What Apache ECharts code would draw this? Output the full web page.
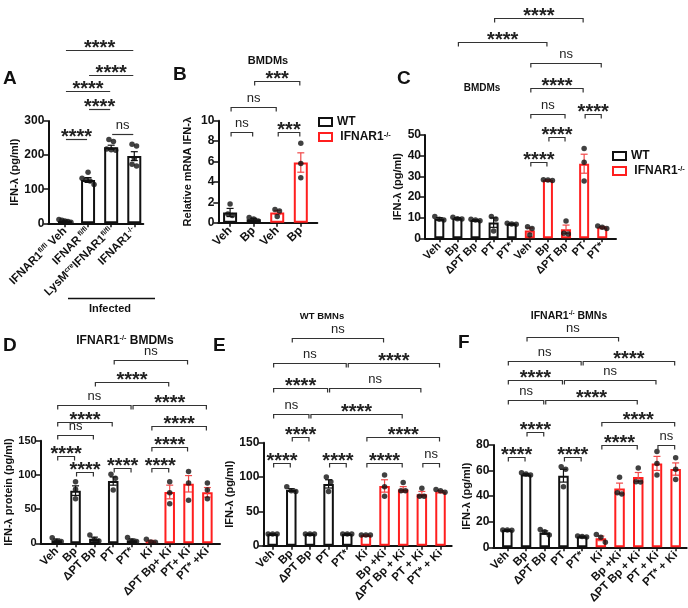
<!DOCTYPE html>
<html>
<head>
<meta charset="utf-8">
<script src="https://cdn.jsdelivr.net/npm/echarts@6/dist/echarts.min.js"></script>
<style>
  html, body { margin: 0; background: #fff; }
  #chart { width: 688px; height: 608px; }
</style>
</head>
<body>
<div id="chart"></div>
<script>
const FONT = 'Liberation Sans, Arial, sans-serif'
const BLACK = '#111'
const RED = '#ff1f1f'
const RED_ERR = '#f04848'

// ---- A: infected mice ----
const catsA = ['{b|IFNAR1}{s|fl/fl}{b| Veh}', '{b|IFNAR}{s| fl/fl}', '{b|LysM}{s|cre}{b|IFNAR1}{s|fl/fl}', '{b|IFNAR1}{s|-/-}']
const groupA = [0, 0, 0, 0]
const meanA = [7, 127, 223, 197]
const semA = [2, 7, 6, 13]
const ptsA = [[11, 9, 7, 5, 3], [150, 132, 128, 124, 114], [246, 240, 218, 216, 214], [232, 227, 190, 173, 168]]
const bracketsA = [[0, 1, 246, '****'], [2, 3, 261, 'ns'], [1, 2, 335, '****'], [0, 2, 389, '****'], [1, 3, 435, '****'], [0, 3, 508, '****']]

// ---- B: BMDMs mRNA ----
const catsB = ['Veh', 'Bp', 'Veh', 'Bp']
const groupB = [0, 0, 1, 1]
const meanB = [1.0, 0.33, 1.0, 5.9]
const semB = [0.4, 0.1, 0.2, 0.95]
const ptsB = [[1.83, 0.85, 0.7], [0.5, 0.36, 0.16], [1.3, 1.15, 0.6], [7.8, 5.8, 4.4]]
const bracketsB = [[0, 1, 8.9, 'ns'], [2, 3, 8.9, '***'], [0, 2, 11.3, 'ns'], [1, 3, 13.9, '***']]

// ---- C: BMDMs protein ----
const catsC = ['Veh', 'Bp', 'ΔPT Bp', 'PT', 'PT*', 'Veh', 'Bp', 'ΔPT Bp', 'PT', 'PT*']
const groupC = [0, 0, 0, 0, 0, 1, 1, 1, 1, 1]
const meanC = [9.5, 9.7, 8.8, 7.6, 7.0, 3.8, 28.2, 4.4, 36.1, 5.3]
const semC = [0.5, 0.3, 0.2, 2.3, 0.2, 1.2, 0.2, 2.0, 4.6, 0.4]
const ptsC = [[10.5, 9.2, 8.9], [10.2, 9.5, 9.3], [9.2, 8.8, 8.5], [10.5, 9.4, 3.5], [7.3, 6.9, 6.8],
  [5.6, 4.8, 1.6], [28.4, 28.2, 28.0], [8.4, 2.4, 2.1], [43.5, 36.8, 27.7], [6.0, 5.3, 4.8]]
const bracketsC = [[5, 6, 36.9, '****'], [6, 7, 49.0, '****'], [5, 7, 60.2, 'ns'], [8, 9, 60.2, '****'],
  [5, 8, 72.6, '****'], [5, 9, 84.9, 'ns'], [1, 6, 94.9, '****'], [3, 8, 106.5, '****']]

// ---- D: IFNAR1-/- BMDMs ----
const catsD = ['Veh', 'Bp', 'ΔPT Bp', 'PT', 'PT*', 'Ki', 'ΔPT Bp+ Ki', 'PT+ Ki', 'PT* +Ki']
const groupD = [0, 0, 0, 0, 0, 1, 1, 1, 1]
const meanD = [4.5, 77, 6.5, 91, 4.5, 3, 75, 87, 74.5]
const semD = [1.8, 7, 2.5, 6, 1.8, 1.3, 10, 12, 7]
const ptsD = [[8, 3, 2.5], [90, 79, 65], [12, 5.5, 3.5], [101, 95, 78], [8.5, 3.5, 2.5], [6, 2, 1.5],
  [90, 74, 58], [105, 88, 63], [88, 78, 65]]
const bracketsD = [[0, 1, 127.6, '****'], [1, 2, 103.8, '****'], [3, 4, 109.6, '****'], [5, 6, 109.6, '****'],
  [0, 2, 158.3, 'ns'], [5, 7, 140.4, '****'], [0, 3, 177.8, '****'], [5, 8, 172, '****'],
  [0, 4, 202.2, 'ns'], [4, 8, 202.2, '****'], [2, 6, 236.3, '****'], [3, 7, 268, 'ns']]

// ---- E: WT BMNs ----
const catsE = ['Veh', 'Bp', 'ΔPT Bp', 'PT', 'PT*', 'Ki', 'Bp +Ki', 'ΔPT Bp + Ki', 'PT + Ki', 'PT* + Ki']
const groupE = [0, 0, 0, 0, 0, 1, 1, 1, 1, 1]
const meanE = [17, 81, 17, 90, 17, 15.5, 87, 82, 75, 79]
const semE = [0.3, 2, 0.3, 6, 0.3, 0.3, 9, 4, 4, 1.3]
const ptsE = [[17, 17, 17], [86, 80, 79], [17, 17, 17], [100, 93, 79], [17, 17, 17], [15.5, 15.5, 15.5],
  [103, 86, 72], [92, 80, 80], [83.5, 72, 72], [82, 80, 78]]
const bracketsE = [[0, 1, 120.8, '****'], [3, 4, 120.8, '****'], [5, 7, 120.8, '****'], [8, 9, 120.8, 'ns'],
  [1, 2, 157.8, '****'], [5, 9, 157.8, '****'], [0, 2, 192, 'ns'], [2, 7, 192, '****'],
  [0, 3, 229.2, '****'], [3, 8, 229.2, 'ns'], [0, 4, 265.6, 'ns'], [4, 9, 265.6, '****'], [1, 6, 302, 'ns']]

// ---- F: IFNAR1-/- BMNs ----
const catsF = ['Veh', 'Bp', 'ΔPT Bp', 'PT', 'PT*', 'Ki', 'Bp +Ki', 'ΔPT Bp + Ki', 'PT + Ki', 'PT* + Ki']
const groupF = [0, 0, 0, 0, 0, 1, 1, 1, 1, 1]
const meanF = [13.5, 57, 11.5, 56, 8.5, 7, 46, 55, 65.6, 61.2]
const semF = [0.2, 0.5, 1.3, 5, 0.3, 1.8, 4.2, 3.5, 5.5, 4.8]
const ptsF = [[13.6, 13.5, 13.3], [58.3, 57.3, 56.5], [14, 12.2, 9.6], [63, 61, 47.4], [8.9, 8.5, 8.1],
  [10, 7.8, 3.9], [54.7, 42.7, 41.7], [62, 51.3, 51], [75, 65.6, 56.5], [70, 61, 53]]
const bracketsF = [[0, 1, 71, '****'], [3, 4, 71, '****'], [5, 7, 80, '****'], [8, 9, 80, 'ns'],
  [1, 2, 90.4, '****'], [5, 9, 98.2, '****'], [0, 2, 115.2, 'ns'], [2, 7, 115.2, '****'],
  [0, 3, 130.8, '****'], [3, 8, 130.8, 'ns'], [0, 4, 145.7, 'ns'], [4, 9, 145.7, '****'], [1, 6, 164.7, 'ns']]

const RICH = {
  b: { fontFamily: FONT, fontWeight: 'bold', fontSize: 11.5, color: BLACK },
  s: { fontFamily: FONT, fontWeight: 'bold', fontSize: 7, color: BLACK, verticalAlign: 'top' }
}

const panels = [
  { d: { cats: catsA, group: groupA, mean: meanA, sem: semA, pts: ptsA, brackets: bracketsA, yName: 'IFN-λ (pg/ml)', names: ['A0', 'A1'] },
    L: { left: 48.3, top: 121, width: 95, height: 102.3, xMin: -0.72, xMax: 3.39, yMax: 300, yStep: 100, barWidth: 14, nameGap: 26, yFont: 12, xFont: 11.5, tick: 0 } },
  { d: { cats: catsB, group: groupB, mean: meanB, sem: semB, pts: ptsB, brackets: bracketsB, yName: 'Relative mRNA IFN-λ', names: ['WT', 'IFNAR1-/-'] },
    L: { left: 218.3, top: 120.7, width: 99, height: 102, xMin: -0.5, xMax: 3.7, yMax: 10, yStep: 2, barWidth: 14, nameGap: 25, yFont: 12, xFont: 12, tick: 4 } },
  { d: { cats: catsC, group: groupC, mean: meanC, sem: semC, pts: ptsC, brackets: bracketsC, yName: 'IFN-λ (pg/ml)', names: ['WT', 'IFNAR1-/-'] },
    L: { left: 425, top: 135, width: 191, height: 103.3, xMin: -0.79, xMax: 9.76, yMax: 50, yStep: 10, barWidth: 10, nameGap: 18, yFont: 12, xFont: 11, tick: 4 } },
  { d: { cats: catsD, group: groupD, mean: meanD, sem: semD, pts: ptsD, brackets: bracketsD, yName: 'IFN-λ protein (pg/ml)', names: ['D0', 'D1'] },
    L: { left: 40.7, top: 440.7, width: 179.3, height: 102.6, xMin: -0.85, xMax: 8.67, yMax: 150, yStep: 50, barWidth: 10.5, nameGap: 24, yFont: 11, xFont: 11.5, tick: 4 } },
  { d: { cats: catsE, group: groupE, mean: meanE, sem: semE, pts: ptsE, brackets: bracketsE, yName: 'IFN-λ (pg/ml)', names: ['E0', 'E1'] },
    L: { left: 263.3, top: 442.7, width: 188.4, height: 103, xMin: -0.5, xMax: 9.6, yMax: 150, yStep: 50, barWidth: 10.5, nameGap: 28, yFont: 12, xFont: 11.5, tick: 4 } },
  { d: { cats: catsF, group: groupF, mean: meanF, sem: semF, pts: ptsF, brackets: bracketsF, yName: 'IFN-λ (pg/ml)', names: ['F0', 'F1'] },
    L: { left: 493.3, top: 445, width: 193.4, height: 102.3, xMin: -0.75, xMax: 9.59, yMax: 80, yStep: 20, barWidth: 10.5, nameGap: 20, yFont: 12, xFont: 11.5, tick: 4 } }
]

// spread overlapping dots sideways, like Prism does
function jitter(values, L) {
  const pxPerUnit = L.height / L.yMax
  const order = values.map((v, i) => i).sort((a, b) => values[b] - values[a])
  const offs = new Array(values.length).fill(0)
  let cluster = [order[0]]
  const flush = () => {
    const step = Math.min(4.5, 12 / Math.max(1, cluster.length - 1))
    cluster.forEach((k, j) => { offs[k] = (j - (cluster.length - 1) / 2) * step })
  }
  for (let j = 1; j < order.length; j++) {
    const gap = (values[order[j - 1]] - values[order[j]]) * pxPerUnit
    if (gap < 5) cluster.push(order[j])
    else { flush(); cluster = [order[j]] }
  }
  flush()
  return offs
}

const option = {
  animation: false,
  backgroundColor: '#fff',
  grid: [], xAxis: [], yAxis: [], series: [],
  legend: [],
  graphic: []
}

panels.forEach(({ d, L }, i) => {
  const idx = d.cats.map((_, k) => k)
  option.grid.push({ left: L.left, top: L.top, width: L.width, height: L.height })
  option.xAxis.push({
    type: 'value', gridIndex: i, min: L.xMin, max: L.xMax,
    splitLine: { show: false },
    axisLine: { show: true, onZero: false, lineStyle: { color: BLACK, width: 2 } },
    axisTick: { show: true, customValues: idx, length: 4, lineStyle: { color: BLACK, width: 1.5 } },
    axisLabel: {
      customValues: idx, rotate: 45, margin: 6,
      formatter: v => d.cats[Math.round(v)],
      fontFamily: FONT, fontWeight: 'bold', fontSize: L.xFont, color: BLACK, rich: RICH
    }
  })
  option.yAxis.push({
    type: 'value', gridIndex: i, min: 0, max: L.yMax, interval: L.yStep,
    name: d.yName, nameLocation: 'middle', nameGap: L.nameGap,
    nameTextStyle: { fontFamily: FONT, fontWeight: 'bold', fontSize: 11, color: BLACK },
    splitLine: { show: false },
    axisLine: { show: true, onZero: false, lineStyle: { color: BLACK, width: 2 } },
    axisTick: { show: true, length: 5, lineStyle: { color: BLACK, width: 1.5 } },
    axisLabel: { margin: 4, fontFamily: FONT, fontWeight: 'bold', fontSize: L.yFont, color: BLACK }
  })

  // bars, one series per genotype
  ;[0, 1].forEach(g => {
    const rows = idx.filter(k => d.group[k] === g)
    if (!rows.length) return
    option.series.push({
      type: 'bar', name: d.names[g], xAxisIndex: i, yAxisIndex: i,
      barWidth: L.barWidth, barGap: '-100%', silent: true, z: 2,
      itemStyle: { color: '#fff', borderColor: g ? RED : BLACK, borderWidth: 2 },
      data: rows.map(k => [k, d.mean[k]])
    })
  })

  // error bars (mean ± SEM)
  option.series.push({
    type: 'custom', xAxisIndex: i, yAxisIndex: i, clip: false, silent: true, z: 3,
    encode: { x: 0, y: 1 },
    data: idx.map(k => [k, d.mean[k], d.sem[k], d.group[k]]),
    renderItem(params, api) {
      const x = api.value(0), m = api.value(1), s = api.value(2)
      const stroke = api.value(3) ? RED_ERR : BLACK
      const top = api.coord([x, m + s]), bot = api.coord([x, m - s])
      const w = 3.5
      const st = { stroke, lineWidth: 1.2 }
      return {
        type: 'group', children: [
          { type: 'line', shape: { x1: top[0], y1: top[1], x2: bot[0], y2: bot[1] }, style: st },
          { type: 'line', shape: { x1: top[0] - w, y1: top[1], x2: top[0] + w, y2: top[1] }, style: st },
          { type: 'line', shape: { x1: bot[0] - w, y1: bot[1], x2: bot[0] + w, y2: bot[1] }, style: st }
        ]
      }
    }
  })

  // individual replicates
  const dots = []
  d.pts.forEach((vals, k) => {
    const offs = jitter(vals, L)
    vals.forEach((v, j) => dots.push({ value: [k, v], symbolOffset: [offs[j], 0] }))
  })
  option.series.push({
    type: 'scatter', xAxisIndex: i, yAxisIndex: i, symbolSize: 5.5, silent: true, z: 4,
    itemStyle: { color: BLACK }, data: dots
  })

  // significance brackets
  option.series.push({
    type: 'custom', xAxisIndex: i, yAxisIndex: i, clip: false, silent: true, z: 5,
    encode: { x: [0, 1], y: 2 },
    data: d.brackets.map(b => [b[0], b[1], b[2]]),
    renderItem(params, api) {
      const b = d.brackets[params.dataIndex]
      const p1 = api.coord([b[0], b[2]]), p2 = api.coord([b[1], b[2]])
      const x1 = p1[0] + 1, x2 = p2[0] - 1, y = Math.round(p1[1]) + 0.5
      const pts = L.tick ? [[x1, y + L.tick], [x1, y], [x2, y], [x2, y + L.tick]] : [[x1, y], [x2, y]]
      const stars = b[3] !== 'ns'
      return {
        type: 'group', children: [
          { type: 'polyline', shape: { points: pts }, style: { stroke: '#333', lineWidth: 1.2, fill: null } },
          { type: 'text', style: {
            text: b[3], x: (x1 + x2) / 2, y: stars ? y - 2.5 : y - 9,
            align: 'center', verticalAlign: 'middle',
            font: stars ? `bold 20px ${FONT}` : `13px ${FONT}`, fill: '#222'
          } }
        ]
      }
    }
  })
})

// legends for B and C
const legendRich = {
  b: { fontFamily: FONT, fontWeight: 'bold', fontSize: 12, color: BLACK },
  s: { fontFamily: FONT, fontWeight: 'bold', fontSize: 7.5, color: BLACK, verticalAlign: 'top' }
}
const legendData = [
  { name: 'WT', itemStyle: { color: '#fff', borderColor: BLACK, borderWidth: 2 } },
  { name: 'IFNAR1-/-', itemStyle: { color: '#fff', borderColor: RED, borderWidth: 2 } }
]
const legendFmt = n => n === 'WT' ? '{b|WT}' : '{b| IFNAR1}{s|-/-}'
;[[313, 111], [607, 145]].forEach(([x, y]) => {
  option.legend.push({
    left: x, top: y, orient: 'vertical', icon: 'rect', itemWidth: 13, itemHeight: 8, itemGap: 3,
    selectedMode: false, data: legendData, formatter: legendFmt,
    textStyle: { rich: legendRich, padding: [0, 0, 0, 0] }
  })
})

// panel letters, titles, "Infected" group line
const txt = (text, x, y, size, align) => ({
  type: 'text', x, y, silent: true,
  style: { text, fontFamily: FONT, fontWeight: 'bold', fontSize: size, fill: BLACK,
    align: align || 'left', verticalAlign: 'middle', rich: {
      b: { fontFamily: FONT, fontWeight: 'bold', fontSize: size, color: BLACK },
      s: { fontFamily: FONT, fontWeight: 'bold', fontSize: size * 0.6, color: BLACK, verticalAlign: 'top' }
    } }
})
option.graphic.push(
  txt('A', 3, 79, 19), txt('B', 173, 75, 19), txt('C', 397, 79, 19),
  txt('D', 3, 346, 19), txt('E', 213, 346, 19), txt('F', 458, 343, 19),
  txt('BMDMs', 268, 61, 11, 'center'),
  txt('BMDMs', 482, 88, 10, 'center'),
  txt('{b|IFNAR1}{s|-/-}{b| BMDMs}', 125, 341, 12, 'center'),
  txt('WT BMNs', 322, 316, 9.5, 'center'),
  txt('{b|IFNAR1}{s|-/-}{b| BMNs}', 569, 316, 10.5, 'center'),
  txt('Infected', 110, 309, 11, 'center'),
  { type: 'line', silent: true, shape: { x1: 68, y1: 298.5, x2: 155, y2: 298.5 }, style: { stroke: BLACK, lineWidth: 1.5 } }
)

const chart = echarts.init(document.getElementById('chart'), null, { renderer: 'canvas' })
chart.setOption(option)
window.addEventListener('resize', () => chart.resize())
</script>
</body>
</html>
